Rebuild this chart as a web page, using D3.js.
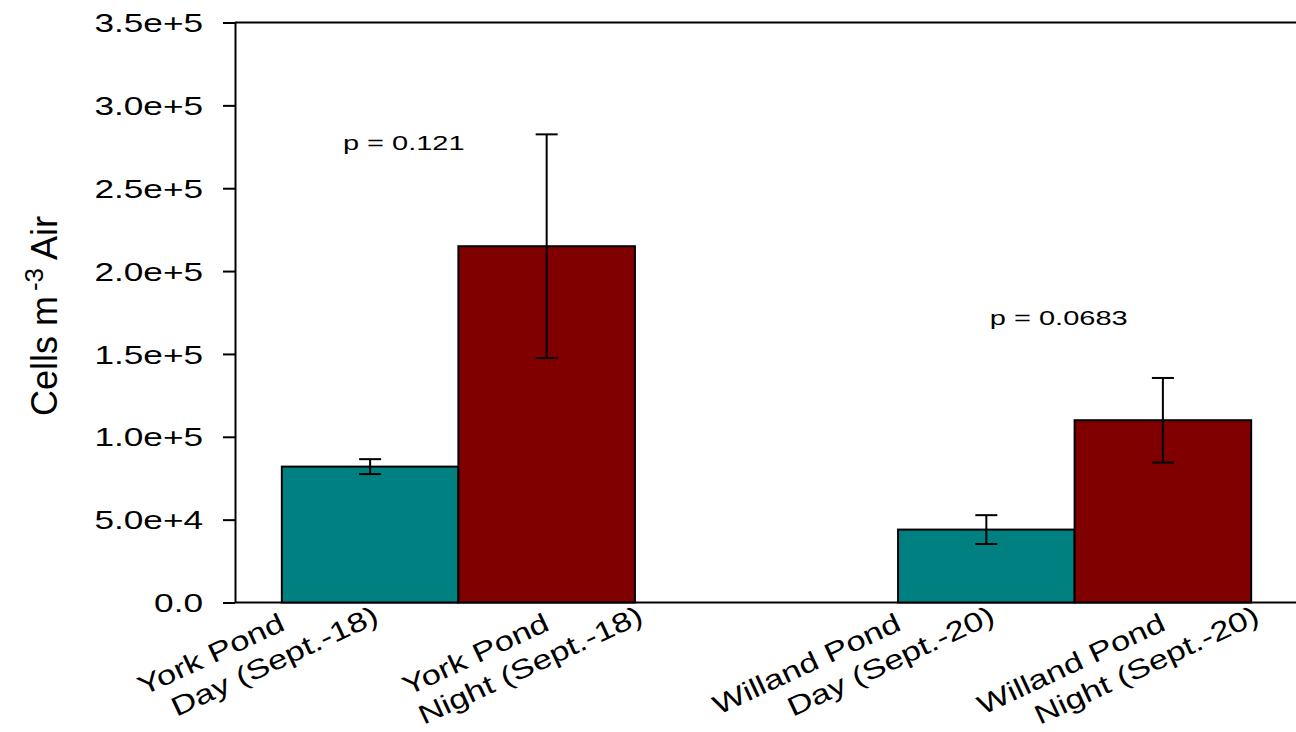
<!DOCTYPE html>
<html><head><meta charset="utf-8">
<script src="https://cdn.jsdelivr.net/npm/d3@7"></script>
<style>
body{margin:0;background:#fff}
svg{display:block}
text{font-family:Arial,"Liberation Sans",sans-serif;fill:#000}
</style>
</head><body>
<svg id="chart" width="1296" height="732"></svg>
<script>
// ---- data ----
const sites = ["York Pond", "Willand Pond"];
const dates = ["Sept.-18", "Sept.-20"];
const periods = ["Day", "Night"];
const means = [[82000, 215000], [44000, 110000]];
const errors = [[4500, 67500], [8700, 25500]];
const pLabels = ["p = 0.121", "p = 0.0683"];
const pLabelY = [273000, 167400];
const yTicks = [0, 50000, 100000, 150000, 200000, 250000, 300000, 350000];
const yTickLabels = ["0.0", "5.0e+4", "1.0e+5", "1.5e+5", "2.0e+5", "2.5e+5", "3.0e+5", "3.5e+5"];
const colors = ["#008080", "#800000"];

// ---- layout ----
const svg = d3.select("#chart");
const plotLeft = 235, plotRight = 1298, plotTop = 22.5, plotBottom = 602.5;
const stretch = 1.38;
const x0 = d3.scaleBand().domain(sites).range([plotLeft, plotRight]).paddingInner(0.427).paddingOuter(0.076);
const x1 = d3.scaleBand().domain(periods).range([0, x0.bandwidth()]);
const y = d3.scaleLinear().domain([0, 350000]).range([plotBottom, plotTop]);

// y axis
const yAxis = d3.axisLeft(y).tickValues(yTicks).tickFormat((d, i) => yTickLabels[i]).tickSize(12).tickSizeOuter(0);
const gy = svg.append("g").attr("transform", `translate(${plotLeft},0)`).call(yAxis);
gy.select(".domain").attr("stroke", "#000").attr("stroke-width", 2);
gy.selectAll(".tick line").attr("stroke", "#000").attr("stroke-width", 2);
gy.selectAll(".tick text")
  .attr("x", null).attr("dy", "0.36em")
  .attr("transform", `translate(-32,0) scale(${stretch},1)`)
  .attr("text-anchor", "end")
  .style("font-size", "25.5px").style("font-family", "Arial, 'Liberation Sans', sans-serif");

// top and bottom frame lines
svg.append("line").attr("x1", plotLeft).attr("x2", plotRight).attr("y1", y(350000)).attr("y2", y(350000))
  .attr("stroke", "#000").attr("stroke-width", 2);
svg.append("line").attr("x1", plotLeft).attr("x2", plotRight).attr("y1", y(0)).attr("y2", y(0))
  .attr("stroke", "#000").attr("stroke-width", 2);

// bars
const records = [];
sites.forEach((s, i) => periods.forEach((p, j) => records.push({site: s, period: p, date: dates[i], mean: means[i][j], err: errors[i][j], j})));

svg.append("g").selectAll("rect").data(records).join("rect")
  .attr("x", d => x0(d.site) + x1(d.period))
  .attr("y", d => y(d.mean))
  .attr("width", x1.bandwidth())
  .attr("height", d => y(0) - y(d.mean))
  .attr("fill", d => colors[d.j])
  .attr("stroke", "#000").attr("stroke-width", 2);

// error bars
const cap = 11;
const eg = svg.append("g").attr("stroke", "#000").attr("stroke-width", 2);
records.forEach(d => {
  const cx = x0(d.site) + x1(d.period) + x1.bandwidth() / 2;
  eg.append("line").attr("x1", cx).attr("x2", cx).attr("y1", y(d.mean + d.err)).attr("y2", y(d.mean - d.err));
  eg.append("line").attr("x1", cx - cap).attr("x2", cx + cap).attr("y1", y(d.mean + d.err)).attr("y2", y(d.mean + d.err));
  eg.append("line").attr("x1", cx - cap).attr("x2", cx + cap).attr("y1", y(d.mean - d.err)).attr("y2", y(d.mean - d.err));
});

// p-value labels
const pOffset = [0.173, 0.26];
sites.forEach((s, i) => {
  svg.append("text")
    .attr("transform", `translate(${x0(s) + pOffset[i] * x0.bandwidth()},${y(pLabelY[i])}) scale(${stretch},1)`)
    .style("font-size", "21px")
    .text(pLabels[i]);
});

// x category labels
const angle = -25;
const labelShift = [10, 98];
const labelStretch = 1.28;
records.forEach(d => {
  const cx = x0(d.site) + x1(d.period) + x1.bandwidth() / 2;
  const g = svg.append("g").attr("transform", `translate(${cx + labelShift[d.j]},622) rotate(${angle})`);
  g.append("text").attr("text-anchor", "end").attr("transform", `translate(-88,-33) scale(${labelStretch},1)`)
    .style("font-size", "27px").text(d.site);
  g.append("text").attr("text-anchor", "end").attr("transform", `scale(${labelStretch},1)`)
    .style("font-size", "27px").text(`${d.period} (${d.date})`);
});

// y axis title
const yt = svg.append("text")
  .attr("transform", "translate(57,316) rotate(-90)")
  .attr("text-anchor", "middle")
  .style("font-size", "36px");
yt.append("tspan").text("Cells m");
yt.append("tspan").attr("dx", 5).attr("dy", -14).style("font-size", "26px").text("-3");
yt.append("tspan").attr("dy", 14).text(" Air");
</script>
</body></html>
